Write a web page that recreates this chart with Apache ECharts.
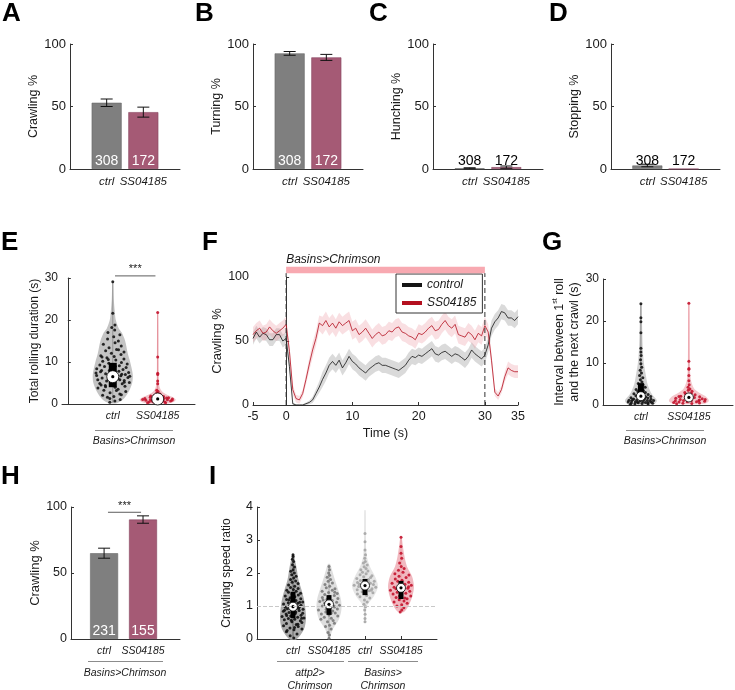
<!DOCTYPE html>
<html lang="en">
<head>
<meta charset="UTF-8">
<title>SS04185 behaviour panels</title>
<script src="https://cdn.jsdelivr.net/npm/echarts@6/dist/echarts.min.js"></script>
<style>
  html, body { margin: 0; padding: 0; background: #fff; }
  #main { width: 735px; height: 690px; }
</style>
</head>
<body>
<div id="main"></div>
<script>
// ---------------- data ----------------
const groups = ['ctrl', 'SS04185'];
const groupsI = ['ctrl', 'SS04185', 'ctrl', 'SS04185'];
const nLarvae = [308, 172];
const nLarvaeH = [231, 155];

const crawlPct = [53, 45.5];  const crawlErr = [3, 4];
const turnPct = [92.5, 89.3]; const turnErr = [1.5, 2.4];
const hunchPct = [0.6, 1.5];  const hunchErr = [0.4, 0.9];
const stopPct = [2.8, 0];     const stopErr = [1, 0];
const crawlHPct = [65, 90.5]; const crawlHErr = [3.8, 2.8];

const sigE = [1.05, 1.95, 30.5];
const sigH = [1.1, 1.95, 96];

// F: crawling % time course (0.5 s bins)
const fTime = [-5,-4.5,-4,-3.5,-3,-2.5,-2,-1.5,-1,-0.5,0,0.5,1,1.5,2,2.5,3,3.5,4,4.5,5,5.5,6,6.5,7,7.5,8,8.5,9,9.5,10,
  10.5,11,11.5,12,12.5,13,13.5,14,14.5,15,15.5,16,16.5,17,17.5,18,18.5,19,19.5,20,20.5,21,21.5,22,22.5,23,23.5,24,24.5,25,
  25.5,26,26.5,27,27.5,28,28.5,29,29.5,30,30.5,31,31.5,32,32.5,33,33.5,34,34.5,35];
const fCtrl = [52,57,53,56,55,51,51,55,55,50,52,
  30,1,0,0,0,1,2,4,9,14,
  20,25,31,34,31,35,29,33,38,34,
  32,29,27,25,28,30,32,33,31,31,
  30,29,28,27,29,31,35,38,37,39,
  38,40,42,44,40,39,41,42,40,38,
  40,39,37,35,38,43,40,38,36,39,
  47,60,65,68,73,72,68,68,66,69];
const fSS = [55,58,60,56,57,61,58,56,58,60,63,
  42,12,5,4,9,20,32,43,52,64,
  62,66,61,64,60,65,62,64,66,58,
  60,55,57,60,56,52,55,57,54,55,
  58,57,60,61,57,56,54,53,51,56,
  55,57,60,62,58,59,63,66,62,60,
  63,55,54,53,57,55,51,56,54,62,
  57,35,10,7,12,22,29,27,26,26];
const fCtrlSem = [5,5,5,5,5,5,5,5,5,5,5,
  4,1,0.5,0.5,0.5,1,1.5,2.5,3.5,4.5,
  6,6,6,6,6,6,6,6,6,6,
  6,6,6,6,6,6,6,6,6,6,
  6,6,6,6,6,6,6,6,6,6,
  6,6,6,6,6,6,6,6,6,6,
  6,6,6,6,6,6,6,6,6,6,
  6,6,6,6,6,6,6,6,6,6];
const fSSSem = [6,6,6,6,6,6,6,6,6,6,6,
  5,4,3,3,3,4,5,6,6,6,
  7,7,7,7,7,7,7,7,7,7,
  7,7,7,7,7,7,7,7,7,7,
  7,7,7,7,7,7,7,7,7,7,
  7,7,7,7,7,7,7,7,7,7,
  7,7,7,7,7,7,7,7,7,7,
  6,5,3,3,3,4,5,5,5,5];
const stimWindow = [0, 30];
const fTicks = [-5, 0, 10, 20, 30, 35];

// violin density profiles: [value, relative width]
const eCtrlDensity = [[0.2,0.2],[1,0.5],[3,0.8],[5,0.97],[7,1],[10,0.87],[12,0.75],[15,0.62],[17,0.45],[18,0.3],[20,0.15],[22,0.1],[25,0.05],[29.2,0.02]];
const eSSDensity = [[0.1,0.45],[0.5,0.8],[1,0.9],[1.5,0.8],[2,0.55],[3,0.22],[4,0.1],[6,0.05],[10,0.04],[21.8,0.02]];
const gCtrlDensity = [[0.2,0.65],[1,0.8],[2,0.65],[3,0.5],[5,0.33],[7,0.25],[10,0.15],[13,0.1],[17,0.07],[21,0.05],[24.2,0.03]];
const gSSDensity = [[0.3,0.8],[1,1],[2,0.85],[3,0.5],[4,0.25],[6,0.1],[10,0.05],[24.3,0.025]];
const iAttCtrlDensity = [[0,0.3],[0.3,0.85],[0.6,1],[0.9,0.96],[1.2,0.85],[1.5,0.65],[1.8,0.42],[2.1,0.3],[2.4,0.15],[2.58,0.05]];
const iAttSSDensity = [[0,0.04],[0.3,0.3],[0.6,0.77],[0.9,0.96],[1.2,0.92],[1.5,0.7],[1.8,0.45],[2.1,0.23],[2.27,0.08]];
const iBasCtrlDensity = [[0.5,0.04],[1,0.15],[1.3,0.7],[1.6,1],[1.9,0.77],[2.2,0.38],[2.5,0.15],[3.2,0.04],[3.9,0.02]];
const iBasSSDensity = [[0.82,0.23],[1,0.58],[1.3,0.88],[1.6,1],[1.9,0.85],[2.2,0.46],[2.5,0.27],[2.8,0.15],[3.1,0.04]];

// box stats: [min, q1, median, q3, max]
const eCtrlBox = [0.3, 4, 6.5, 9.8, 29.2];
const eSSBox = [0.2, 0.6, 1.2, 1.8, 21.8];
const gCtrlBox = [0.2, 1.2, 2.1, 5.2, 24.2];
const gSSBox = [0.3, 1.0, 1.8, 2.5, 24.3];
const iAttCtrlBox = [0.02, 0.63, 0.98, 1.43, 2.55];
const iAttSSBox = [0.02, 0.73, 1.05, 1.33, 2.25];
const iBasCtrlBox = [0.5, 1.33, 1.62, 1.82, 3.9];
const iBasSSBox = [0.82, 1.21, 1.55, 1.76, 3.1];
const speedRef = 1;

// individual larvae: [jitter (-1..1 of violin width), value]
const eCtrlPts = [[-0.6,0.4],[0.3,0.7],[0.8,1.1],[-0.3,1.3],[0.1,1.8],[-0.85,2.1],[0.55,2.4],[-0.2,2.7],[0.9,3.0],[-0.6,3.3],[0.35,3.5],[-0.95,3.8],[0.15,4.0],[0.75,4.2],[-0.45,4.4],[-0.05,4.6],[0.55,4.8],[-0.75,4.9],[0.95,5.1],[0.1,5.3],[-0.35,5.5],[0.65,5.6],[-0.85,5.8],[0.3,6.0],[-0.6,6.2],[0.85,6.3],[-0.15,6.5],[0.45,6.7],[-0.9,6.8],[0.7,7.0],[-0.4,7.2],[0.15,7.3],[0.9,7.5],[-0.7,7.7],[0.35,7.8],[-0.2,8.0],[0.6,8.2],[-0.95,8.4],[0.05,8.5],[0.8,8.7],[-0.5,8.9],[0.4,9.1],[-0.8,9.3],[0.9,9.5],[-0.25,9.7],[0.55,9.9],[-0.65,10.2],[0.2,10.5],[0.75,10.7],[-0.4,11.0],[0.1,11.3],[-0.85,11.5],[0.6,11.8],[-0.1,12.1],[0.85,12.4],[-0.55,12.7],[0.3,13.0],[-0.3,13.4],[0.7,13.8],[-0.8,14.2],[0.2,14.6],[0.5,15.0],[-0.5,15.5],[0.1,16.0],[0.8,16.5],[-0.6,17.0],[0.3,17.6],[-0.2,18.2],[0.5,18.8],[0,21.6],[0,29.1],[0.25,3.2],[-0.45,4.1],[0.65,5.2],[-0.05,6.1],[0.5,7.1],[-0.65,8.0],[0.15,9.0],[-0.3,10.6],[0.4,5.8],[-0.7,4.5],[0.95,6.6],[-0.95,7.4],[0.7,2.2],[-0.5,1.6],[0.45,12.9],[-0.75,11.2]];
const eSSPts = [[-0.9,0.3],[-0.6,0.5],[-0.3,0.4],[0.1,0.6],[0.5,0.5],[0.85,0.7],[-0.75,0.9],[-0.45,1.0],[-0.1,0.9],[0.25,1.1],[0.6,1.0],[0.95,1.2],[-0.85,1.3],[-0.2,1.4],[0.4,1.3],[0.75,1.5],[-0.55,1.6],[0.15,1.7],[0.5,1.8],[-0.35,2.0],[0.05,2.2],[0.3,2.4],[-0.15,2.7],[0.1,3.0],[-0.3,3.3],[0,4.8],[0,5.5],[0,7.0],[0,7.3],[0,11.2],[0,21.8],[-0.95,1.1],[0.7,0.3],[-0.65,1.9],[0.9,0.9],[0.35,0.8],[-0.4,0.7],[0.6,1.4]];
const gCtrlPts = [[-0.9,0.2],[-0.5,0.3],[0.1,0.35],[0.6,0.3],[0.95,0.4],[-0.75,0.5],[-0.2,0.55],[0.35,0.6],[0.8,0.65],[-0.95,0.7],[-0.4,0.78],[0.15,0.82],[0.65,0.88],[-0.65,0.95],[-0.05,1.0],[0.45,1.05],[0.9,1.1],[-0.85,1.15],[-0.3,1.2],[0.25,1.28],[0.75,1.35],[-0.55,1.45],[0.05,1.55],[0.55,1.65],[-0.8,1.75],[-0.15,1.85],[0.4,1.95],[0.85,2.05],[-0.45,2.2],[0.2,2.35],[0.7,2.5],[-0.7,2.65],[-0.1,2.8],[0.5,3.0],[-0.35,3.2],[0.3,3.45],[-0.6,3.7],[0.1,3.95],[0.6,4.2],[-0.2,4.5],[0.35,4.8],[-0.45,5.1],[0.2,5.5],[-0.1,6.0],[0.4,6.5],[-0.3,7.0],[0.15,7.6],[-0.2,8.3],[0.25,9.0],[0,9.8],[-0.15,10.8],[0.1,11.8],[0,12.6],[0,13.5],[0,17.2],[0,19.8],[0,20.8],[0,24.1],[0.55,0.45],[-0.6,1.3],[0.3,1.7],[-0.25,0.65]];
const gSSPts = [[-0.85,0.3],[-0.4,0.4],[0.2,0.35],[0.7,0.45],[-0.95,0.6],[-0.6,0.7],[-0.1,0.75],[0.45,0.8],[0.9,0.9],[-0.75,1.0],[-0.3,1.05],[0.15,1.1],[0.6,1.2],[-0.5,1.3],[0.05,1.4],[0.8,1.5],[-0.8,1.6],[-0.2,1.7],[0.35,1.8],[0.7,1.95],[-0.55,2.1],[0.1,2.25],[0.5,2.45],[-0.3,2.6],[0.25,2.8],[-0.45,3.0],[0.4,3.25],[-0.1,3.5],[0.2,3.8],[-0.2,4.2],[0.1,4.8],[0,5.8],[0,7.0],[0,8.5],[0.05,8.7],[0,10.4],[0,24.2],[0.95,1.3],[-0.65,2.0],[0.55,1.0]];
const iAttCtrlPts = [[0.2,0.03],[-0.5,0.1],[0.6,0.15],[-0.8,0.22],[0.1,0.28],[0.9,0.3],[-0.3,0.33],[0.5,0.38],[-0.9,0.4],[0.3,0.44],[-0.6,0.47],[0.8,0.5],[-0.1,0.52],[0.65,0.55],[-0.75,0.58],[0.15,0.6],[-0.4,0.62],[0.95,0.64],[0.4,0.66],[-0.95,0.68],[-0.2,0.7],[0.7,0.72],[0.05,0.74],[-0.6,0.76],[0.85,0.78],[-0.35,0.8],[0.25,0.82],[-0.85,0.84],[0.55,0.86],[-0.05,0.88],[0.9,0.9],[-0.5,0.92],[0.35,0.94],[-0.7,0.96],[0.6,0.98],[-0.25,1.0],[0.75,1.02],[0.1,1.04],[-0.9,1.06],[0.45,1.08],[-0.45,1.1],[0.95,1.12],[-0.15,1.14],[0.3,1.17],[-0.65,1.2],[0.8,1.22],[-0.3,1.25],[0.2,1.28],[-0.85,1.3],[0.6,1.33],[-0.1,1.36],[0.9,1.39],[-0.55,1.42],[0.4,1.45],[-0.8,1.48],[0.05,1.5],[0.7,1.53],[-0.35,1.56],[0.25,1.6],[-0.7,1.64],[0.85,1.68],[-0.15,1.72],[0.5,1.76],[-0.5,1.8],[0.15,1.85],[0.7,1.9],[-0.3,1.95],[0.35,2.0],[-0.6,2.05],[0.05,2.1],[0.5,2.18],[-0.2,2.25],[0.3,2.35],[-0.4,2.42],[0.1,2.5],[0,2.55],[0.45,0.45],[-0.15,0.57],[0.75,0.63],[-0.55,0.71],[0.2,0.77],[-0.75,0.87],[0.5,0.93],[-0.05,1.01],[0.65,1.11],[-0.4,1.19],[0.15,0.35],[-0.65,0.26]];
const iAttSSPts = [[0,0.02],[0.3,0.12],[-0.4,0.2],[0.6,0.3],[-0.7,0.38],[0.1,0.42],[0.8,0.48],[-0.2,0.52],[0.5,0.56],[-0.9,0.6],[0.25,0.63],[-0.5,0.66],[0.9,0.7],[0.0,0.73],[-0.75,0.76],[0.6,0.79],[-0.3,0.82],[0.35,0.85],[-0.95,0.88],[0.75,0.91],[-0.1,0.94],[0.5,0.97],[-0.6,1.0],[0.95,1.02],[0.15,1.05],[-0.4,1.08],[0.7,1.11],[-0.85,1.14],[0.3,1.17],[-0.2,1.2],[0.85,1.23],[-0.65,1.26],[0.05,1.29],[0.55,1.32],[-0.45,1.35],[0.9,1.38],[-0.05,1.41],[-0.8,1.45],[0.4,1.48],[0.75,1.52],[-0.35,1.55],[0.1,1.6],[-0.6,1.65],[0.55,1.7],[-0.15,1.75],[0.3,1.8],[-0.4,1.87],[0.15,1.93],[-0.1,2.0],[0.2,2.1],[0,2.2],[0.45,1.0],[-0.25,0.9],[0.2,0.78],[-0.55,1.18],[0.65,1.42]];
const iBasCtrlPts = [[0,0.52],[0,0.62],[0.1,0.75],[-0.2,0.88],[0.3,0.98],[-0.4,1.05],[0.5,1.12],[-0.1,1.18],[0.7,1.24],[-0.65,1.28],[0.2,1.32],[-0.85,1.36],[0.85,1.4],[-0.3,1.43],[0.4,1.46],[-0.75,1.49],[0.65,1.52],[-0.05,1.55],[0.95,1.57],[-0.55,1.59],[0.25,1.61],[-0.95,1.63],[0.75,1.65],[-0.2,1.67],[0.5,1.69],[-0.7,1.71],[0.05,1.73],[0.9,1.75],[-0.45,1.77],[0.35,1.8],[-0.85,1.83],[0.6,1.86],[-0.15,1.89],[0.8,1.92],[-0.6,1.95],[0.15,1.98],[-0.35,2.02],[0.45,2.06],[-0.7,2.1],[0.2,2.14],[-0.2,2.19],[0.55,2.24],[-0.45,2.3],[0.1,2.35],[-0.1,2.45],[0.3,2.55],[0,2.7],[0,2.95],[0,3.2],[0.6,1.48],[-0.5,1.66],[0.35,1.72],[-0.25,1.53]];
const iBasSSPts = [[-0.3,0.82],[0.2,0.88],[0.5,0.95],[-0.6,1.0],[0.1,1.04],[0.8,1.08],[-0.85,1.12],[0.35,1.15],[-0.2,1.19],[0.65,1.22],[-0.5,1.26],[0.95,1.3],[0.0,1.33],[-0.75,1.36],[0.45,1.39],[-0.35,1.42],[0.8,1.45],[-0.95,1.48],[0.2,1.51],[0.6,1.54],[-0.6,1.57],[-0.1,1.6],[0.9,1.63],[0.35,1.66],[-0.8,1.69],[0.7,1.72],[-0.3,1.75],[0.1,1.78],[-0.55,1.82],[0.5,1.86],[-0.2,1.9],[0.85,1.94],[-0.7,1.98],[0.25,2.02],[-0.35,2.08],[0.5,2.14],[0.05,2.2],[-0.3,2.3],[0.2,2.45],[0,2.6],[0,2.8],[0,3.08],[0.4,1.24],[-0.45,1.52],[0.65,1.58],[-0.15,1.3]];

// ---------------- chart ----------------
const FONT = 'Liberation Sans, Arial, Helvetica, sans-serif';
const INK = '#1a1a1a';
const GRAY = '#7f7f7f', GRAY_EDGE = '#6a6a6a';
const MAUVE = '#a55a75', MAUVE_EDGE = '#874560';
const RED = '#c3142d';

const grids = [
  { left: 70, top: 44, width: 110, height: 125 },   // A
  { left: 253, top: 44, width: 110, height: 125 },  // B
  { left: 433, top: 44, width: 110, height: 125 },  // C
  { left: 611, top: 44, width: 109, height: 125 },  // D
  { left: 62, top: 278, width: 133, height: 126 },  // E
  { left: 253, top: 277, width: 265, height: 128 }, // F
  { left: 603, top: 279, width: 130, height: 126 }, // G
  { left: 71, top: 507, width: 109, height: 132 },  // H
  { left: 257, top: 507, width: 180, height: 132 }  // I
];

function yAx(gi, max, interval, name, gap, nameSize, labelSize, extra) {
  return Object.assign({
    type: 'value', gridIndex: gi, min: 0, max: max, interval: interval,
    name: name, nameLocation: 'middle', nameGap: gap,
    nameTextStyle: { fontSize: nameSize, color: INK, fontFamily: FONT },
    axisLine: { show: true, lineStyle: { color: '#333', width: 1 } },
    axisTick: { show: true, inside: true, length: 3, lineStyle: { color: '#333' } },
    axisLabel: { fontSize: labelSize, color: INK, margin: 4, fontFamily: FONT },
    splitLine: { show: false }
  }, extra || {});
}

function xCat(gi, min, max, labels, size, ticks) {
  const vals = labels.map((_, i) => i + 1);
  return {
    type: 'value', gridIndex: gi, min: min, max: max,
    axisLine: { show: true, onZero: false, lineStyle: { color: '#333', width: 1 } },
    axisTick: { show: !!ticks, inside: true, length: 3, customValues: vals, lineStyle: { color: '#333' } },
    axisLabel: { customValues: vals, formatter: v => labels[Math.round(v) - 1] || '',
      fontStyle: 'italic', fontSize: size, color: INK, margin: 7, fontFamily: FONT },
    splitLine: { show: false }
  };
}

const xAxes = [
  xCat(0, 0, 3, groups, 11.5), xCat(1, 0, 3, groups, 11.5),
  xCat(2, 0, 3, groups, 11.5), xCat(3, 0, 3, groups, 11.5),
  xCat(4, -0.13, 2.83, groups, 10.5),
  {
    type: 'value', gridIndex: 5, min: -5, max: 35,
    name: 'Time (s)', nameLocation: 'middle', nameGap: 22,
    nameTextStyle: { fontSize: 12.5, color: INK, fontFamily: FONT },
    axisLine: { show: true, onZero: false, lineStyle: { color: '#333' } },
    axisTick: { show: true, inside: true, length: 3, customValues: fTicks, lineStyle: { color: '#333' } },
    axisLabel: { customValues: fTicks, fontSize: 12.5, color: INK, margin: 5, fontFamily: FONT },
    splitLine: { show: false }
  },
  xCat(6, 0.21, 2.92, groups, 10.5),
  xCat(7, 0.15, 2.95, groups, 10.5),
  xCat(8, 0, 5, groupsI, 10.5, true)
];

const yAxes = [
  yAx(0, 100, 50, 'Crawling %', 19, 12.5, 13),
  yAx(1, 100, 50, 'Turning %', 19, 12.5, 13),
  yAx(2, 100, 50, 'Hunching %', 19, 12.5, 13),
  yAx(3, 100, 50, 'Stopping %', 19, 12.5, 13),
  yAx(4, 30, 10, 'Total rolling duration (s)', 16, 12, 12),
  yAx(5, 100, 50, 'Crawling %', 26, 13, 12.5),
  yAx(6, 30, 10, 'Interval between 1{sup|st} roll\nand the next crawl (s)', 20, 12.5, 12, {
    nameTextStyle: { fontSize: 12.5, lineHeight: 15, color: INK, fontFamily: FONT,
      rich: { sup: { fontSize: 7, verticalAlign: 'top', lineHeight: 15, fontFamily: FONT, color: INK } } }
  }),
  yAx(7, 100, 50, 'Crawling %', 23, 13, 12.5),
  yAx(8, 4, 1, 'Crawling speed ratio', 24, 12, 12.5)
];

function barSeries(gi, vals, ns, labelColor, width) {
  const fills = [GRAY, MAUVE], edges = [GRAY_EDGE, MAUVE_EDGE];
  return {
    type: 'bar', xAxisIndex: gi, yAxisIndex: gi, barWidth: width, z: 2,
    data: vals.map((v, i) => ({ value: [i + 1, v],
      itemStyle: { color: fills[i], borderColor: edges[i], borderWidth: 0.6 } })),
    label: { show: true, position: 'insideBottom', distance: 1, fontSize: 14, fontFamily: FONT,
      color: labelColor, formatter: p => String(ns[p.dataIndex]) }
  };
}

function errSeries(gi, vals, errs) {
  return {
    type: 'custom', xAxisIndex: gi, yAxisIndex: gi, z: 5,
    data: vals.map((v, i) => [i + 1, v, errs[i]]),
    renderItem: (params, api) => {
      const x = api.value(0), m = api.value(1), e = api.value(2);
      if (!e) return null;
      const hi = api.coord([x, m + e]), lo = api.coord([x, Math.max(0, m - e)]);
      const st = { stroke: '#111', lineWidth: 1 };
      return { type: 'group', children: [
        { type: 'line', shape: { x1: hi[0], y1: hi[1], x2: lo[0], y2: lo[1] }, style: st },
        { type: 'line', shape: { x1: hi[0] - 6, y1: hi[1], x2: hi[0] + 6, y2: hi[1] }, style: st },
        { type: 'line', shape: { x1: lo[0] - 6, y1: lo[1], x2: lo[0] + 6, y2: lo[1] }, style: st }
      ] };
    }
  };
}

function sigSeries(gi, sig) {
  return {
    type: 'custom', xAxisIndex: gi, yAxisIndex: gi, clip: false, z: 6, data: [sig],
    renderItem: (params, api) => {
      const a = api.coord([api.value(0), api.value(2)]);
      const b = api.coord([api.value(1), api.value(2)]);
      return { type: 'group', children: [
        { type: 'line', shape: { x1: a[0], y1: a[1], x2: b[0], y2: b[1] }, style: { stroke: '#333', lineWidth: 0.8 } },
        { type: 'text', style: { text: '***', x: (a[0] + b[0]) / 2, y: a[1] - 1, align: 'center',
          verticalAlign: 'bottom', fontSize: 11, fill: INK, fontFamily: FONT } }
      ] };
    }
  };
}

function densityAt(profile, y) {
  if (y <= profile[0][0]) return profile[0][1];
  for (let i = 1; i < profile.length; i++) {
    if (y <= profile[i][0]) {
      const p0 = profile[i - 1], p1 = profile[i];
      return p0[1] + (p1[1] - p0[1]) * (y - p0[0]) / (p1[0] - p0[0]);
    }
  }
  return profile[profile.length - 1][1];
}

function violinSeries(v) {
  const out = [];
  out.push({
    type: 'custom', xAxisIndex: v.grid, yAxisIndex: v.grid, z: 1, data: [[v.cat, 0]],
    renderItem: (params, api) => {
      const right = v.profile.map(p => api.coord([v.cat + p[1] * v.hw, p[0]]));
      const left = v.profile.slice().reverse().map(p => api.coord([v.cat - p[1] * v.hw, p[0]]));
      return { type: 'polygon', shape: { points: right.concat(left), smooth: 0.3 },
        style: { fill: v.fill } };
    }
  });
  out.push({
    type: 'custom', xAxisIndex: v.grid, yAxisIndex: v.grid, z: 2, data: [[v.cat].concat(v.box)],
    renderItem: (params, api) => {
      const lo = api.coord([api.value(0), api.value(1)]), hi = api.coord([api.value(0), api.value(5)]);
      return { type: 'line', shape: { x1: lo[0], y1: lo[1], x2: hi[0], y2: hi[1] },
        style: { stroke: v.whisker, lineWidth: 0.8 } };
    }
  });
  out.push({
    type: 'scatter', xAxisIndex: v.grid, yAxisIndex: v.grid, z: 3, symbolSize: v.dotSize || 3,
    itemStyle: { color: v.dot, opacity: 0.9 },
    data: v.pts.map(p => [v.cat + p[0] * 0.9 * v.hw * densityAt(v.profile, p[1]), p[1]]),
    markLine: v.markLine
  });
  out.push({
    type: 'custom', xAxisIndex: v.grid, yAxisIndex: v.grid, z: 4, data: [[v.cat].concat(v.box)],
    renderItem: (params, api) => {
      const c = api.value(0);
      const q1 = api.coord([c, api.value(2)]), md = api.coord([c, api.value(3)]), q3 = api.coord([c, api.value(4)]);
      return { type: 'group', children: [
        { type: 'rect', shape: { x: q3[0] - v.boxW / 2, y: q3[1], width: v.boxW, height: q1[1] - q3[1] }, style: { fill: '#000' } },
        { type: 'circle', shape: { cx: md[0], cy: md[1], r: v.r }, style: { fill: '#fff', stroke: '#000', lineWidth: 0.8 } },
        { type: 'circle', shape: { cx: md[0], cy: md[1], r: 1.6 }, style: { fill: '#000' } }
      ] };
    }
  });
  return out;
}

const refMarkLine = {
  silent: true, symbol: 'none', label: { show: false },
  lineStyle: { type: 'dashed', color: '#c8c8c8', width: 1 },
  data: [{ yAxis: speedRef }]
};

const violins = [
  { grid: 4, cat: 1, profile: eCtrlDensity, pts: eCtrlPts, box: eCtrlBox, hw: 0.445, fill: '#c4c4c4', dot: '#141414', whisker: '#8a8a8a', boxW: 8, r: 6 },
  { grid: 4, cat: 2, profile: eSSDensity, pts: eSSPts, box: eSSBox, hw: 0.445, fill: '#f2c3c9', dot: RED, whisker: '#e07884', boxW: 6, r: 6 },
  { grid: 6, cat: 1, profile: gCtrlDensity, pts: gCtrlPts, box: gCtrlBox, hw: 0.417, fill: '#d2d2d2', dot: '#141414', whisker: '#777', boxW: 6, r: 4.5 },
  { grid: 6, cat: 2, profile: gSSDensity, pts: gSSPts, box: gSSBox, hw: 0.417, fill: '#f4c8cd', dot: RED, whisker: '#e8909a', boxW: 5, r: 4.5 },
  { grid: 8, cat: 1, profile: iAttCtrlDensity, pts: iAttCtrlPts, box: iAttCtrlBox, hw: 0.36, fill: '#ababab', dot: '#111', whisker: '#555', boxW: 5, r: 4.5, markLine: refMarkLine },
  { grid: 8, cat: 2, profile: iAttSSDensity, pts: iAttSSPts, box: iAttSSBox, hw: 0.36, fill: '#dedede', dot: '#7a7a7a', whisker: '#999', boxW: 5, r: 4.5 },
  { grid: 8, cat: 3, profile: iBasCtrlDensity, pts: iBasCtrlPts, box: iBasCtrlBox, hw: 0.36, fill: '#e6e6e6', dot: '#a5a5a5', whisker: '#d6d6d6', boxW: 5, r: 4.5 },
  { grid: 8, cat: 4, profile: iBasSSDensity, pts: iBasSSPts, box: iBasSSBox, hw: 0.36, fill: '#f1b9c0', dot: RED, whisker: '#e7949d', boxW: 5, r: 4.5 }
];

// shaded ±SEM band drawn as one polygon through the axis scale
function bandSeries(mean, sem, color) {
  return {
    type: 'custom', xAxisIndex: 5, yAxisIndex: 5, z: 1, silent: true, clip: true,
    data: fTime.map((t, i) => [t, mean[i] - sem[i], mean[i] + sem[i]]),
    renderItem: (params, api) => {
      if (params.dataIndex !== 0) return null;
      const upper = fTime.map((t, i) => api.coord([t, mean[i] + sem[i]]));
      const lower = fTime.map((t, i) => api.coord([t, mean[i] - sem[i]])).reverse();
      return { type: 'polygon', shape: { points: upper.concat(lower) }, style: { fill: color } };
    }
  };
}

const fSeries = [
  bandSeries(fCtrl, fCtrlSem, 'rgba(150,150,150,0.35)'),
  bandSeries(fSS, fSSSem, 'rgba(232,140,152,0.28)'),
  { name: 'control', type: 'line', xAxisIndex: 5, yAxisIndex: 5, symbol: 'none', z: 3,
    data: fTime.map((t, i) => [t, fCtrl[i]]),
    itemStyle: { color: '#151515' }, lineStyle: { color: '#151515', width: 0.8 } },
  { name: 'SS04185', type: 'line', xAxisIndex: 5, yAxisIndex: 5, symbol: 'none', z: 3,
    data: fTime.map((t, i) => [t, fSS[i]]),
    itemStyle: { color: '#b4101f' }, lineStyle: { color: '#b4101f', width: 0.8 } },
  { type: 'custom', xAxisIndex: 5, yAxisIndex: 5, clip: false, z: 4, data: [stimWindow],
    renderItem: (params, api) => {
      const t0 = api.value(0), t1 = api.value(1);
      const a = api.coord([t0, 108]), b = api.coord([t1, 103]);
      const a0 = api.coord([t0, 0]), b0 = api.coord([t1, 0]);
      const dash = { stroke: '#333', lineWidth: 1, lineDash: [5, 3] };
      return { type: 'group', children: [
        { type: 'rect', shape: { x: a[0], y: a[1], width: b[0] - a[0], height: b[1] - a[1] }, style: { fill: '#f8a9b1' } },
        { type: 'line', shape: { x1: a0[0], y1: a0[1], x2: a0[0], y2: b[1] }, style: dash },
        { type: 'line', shape: { x1: b0[0], y1: b0[1], x2: b0[0], y2: b[1] }, style: dash },
        { type: 'text', style: { text: 'Basins>Chrimson', x: a[0], y: a[1] - 1, verticalAlign: 'bottom',
          fontSize: 12, fontStyle: 'italic', fill: INK, fontFamily: FONT } }
      ] };
    } }
];

const letters = [['A', 2, 1], ['B', 195, 1], ['C', 369, 1], ['D', 549, 1],
  ['E', 1, 230], ['F', 202, 230], ['G', 542, 230], ['H', 1, 464], ['I', 209, 464]];

function lineG(x1, y, x2) {
  return { type: 'line', shape: { x1: x1, y1: y, x2: x2, y2: y }, style: { stroke: '#8c8c8c', lineWidth: 1 } };
}
function textG(txt, x, y) {
  return { type: 'text', x: x, y: y, style: { text: txt, align: 'center', verticalAlign: 'middle',
    fontSize: 10.5, lineHeight: 13, fontStyle: 'italic', fill: INK, fontFamily: FONT } };
}

const graphics = letters.map(l => ({ type: 'text', left: l[1], top: l[2],
  style: { text: l[0], fontSize: 26, fontWeight: 'bold', fill: '#000', fontFamily: FONT } })).concat([
  lineG(95, 430.5, 173), textG('Basins>Chrimson', 134, 441),
  lineG(626, 430.5, 704), textG('Basins>Chrimson', 665, 441),
  lineG(88, 661.5, 163), textG('Basins>Chrimson', 125, 673),
  lineG(277, 661.5, 344), textG('attp2>\nChrimson', 310, 680),
  lineG(348, 661.5, 418), textG('Basins>\nChrimson', 383, 680)
]);

const series = [
  barSeries(0, crawlPct, nLarvae, '#fff', 30), errSeries(0, crawlPct, crawlErr),
  barSeries(1, turnPct, nLarvae, '#fff', 30), errSeries(1, turnPct, turnErr),
  barSeries(2, hunchPct, nLarvae, '#000', 30), errSeries(2, hunchPct, hunchErr),
  barSeries(3, stopPct, nLarvae, '#000', 30), errSeries(3, stopPct, stopErr),
  barSeries(7, crawlHPct, nLarvaeH, '#fff', 28), errSeries(7, crawlHPct, crawlHErr),
  sigSeries(4, sigE), sigSeries(7, sigH)
].concat(fSeries);
violins.forEach(v => { violinSeries(v).forEach(s => series.push(s)); });

const chart = echarts.init(document.getElementById('main'));
chart.setOption({
  animation: false,
  backgroundColor: '#fff',
  textStyle: { fontFamily: FONT },
  grid: grids,
  xAxis: xAxes,
  yAxis: yAxes,
  legend: {
    data: ['control', 'SS04185'], orient: 'vertical', left: 396, top: 274,
    icon: 'rect', itemWidth: 20, itemHeight: 4, itemGap: 6, padding: [5, 6, 4, 6],
    borderColor: '#333', borderWidth: 1, backgroundColor: '#fff', selectedMode: false,
    textStyle: { fontSize: 12, fontStyle: 'italic', color: INK, fontFamily: FONT }
  },
  graphic: graphics,
  series: series
});
</script>
</body>
</html>
